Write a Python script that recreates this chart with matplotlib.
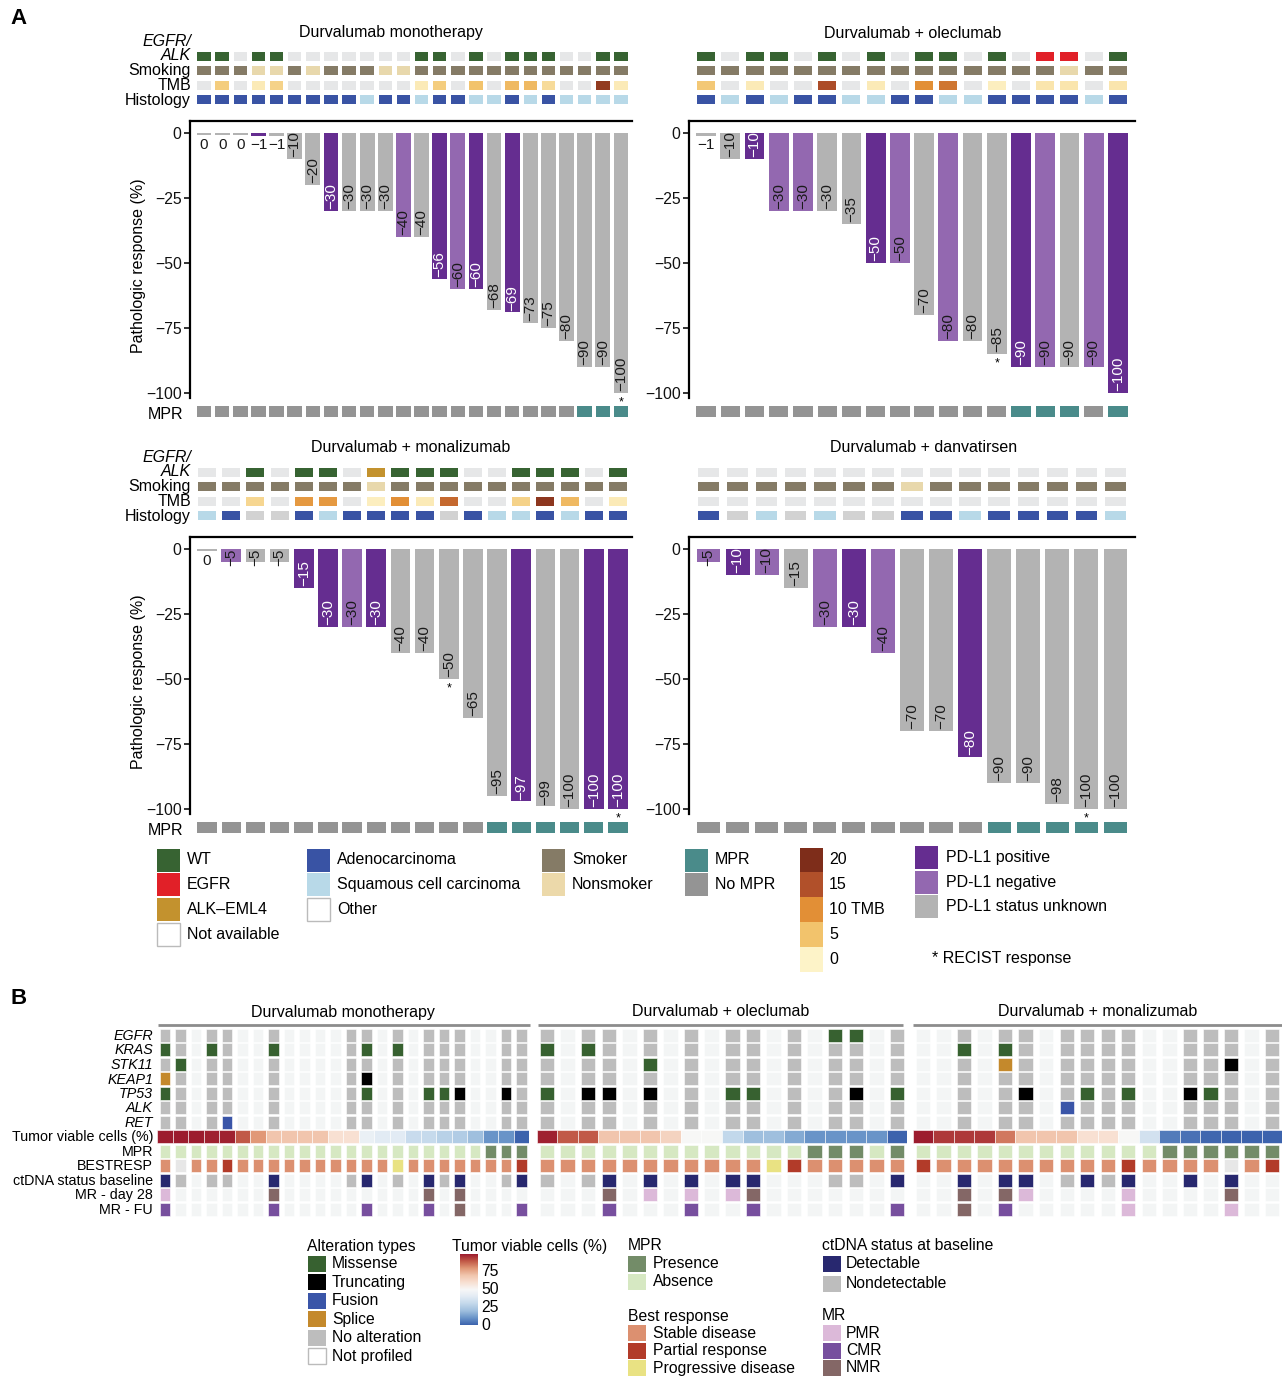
import numpy as np
import matplotlib
matplotlib.use('Agg')
import matplotlib.pyplot as plt
from matplotlib.colors import LinearSegmentedColormap, Normalize

plt.rcParams['font.family'] = ['Liberation Sans', 'DejaVu Sans']

# ---------------- DATA : panel A ----------------
mono_resp = [0, 0, 0, -1, -1, -10, -20, -30, -30, -30, -30, -40, -40, -56, -60, -60, -68, -69, -73, -75, -80, -90, -90, -100]
mono_pdl1 = list("uuupuuupuuunupnpupuuuuuu")
mono_mpr = [0] * 21 + [1, 1, 1]
mono_recist = [23]
mono_egfr = list("WW.WW.......WW.W.WWW..WW")
mono_smoke = list("SSSNNSNSSSNNSSSSSSSSSSSS")
mono_tmb = [np.nan, 4, np.nan, 1, 3.5, np.nan, np.nan, np.nan, np.nan, np.nan, np.nan, np.nan,
            1, 4, np.nan, 5, np.nan, 6, 6, 2.5, np.nan, np.nan, 18, 1]
mono_hist = list("AAAAAAAAAQAAQAAQQAQAQQQQ")

olec_resp = [-1, -10, -10, -30, -30, -30, -35, -50, -50, -70, -80, -80, -85, -90, -90, -90, -90, -100]
olec_pdl1 = list("uupnnuupnunuupnunp")
olec_mpr = [0] * 13 + [1, 1, 1, 0, 1]
olec_recist = [12]
olec_egfr = list("W.WW.W.W.WW.W.EE.W")
olec_smoke = list("SSSSSSSSSSSSSSSNSS")
olec_tmb = [4.5, np.nan, 1, np.nan, np.nan, 15.5, np.nan, 1, np.nan, 10, 12, np.nan, 0.5, np.nan, 1.5, 1.5, np.nan, 1.5]
olec_hist = list("AQAQAAQQAAQQAAAAQA")

mona_resp = [0, -5, -5, -5, -15, -30, -30, -30, -40, -40, -50, -65, -95, -97, -99, -100, -100, -100]
mona_pdl1 = list("unuuppnpuuuuupuupp")
mona_mpr = [0] * 12 + [1] * 6
mona_recist = [10, 17]
mona_egfr = list("..W.WW.AWWW..WWW.W")
mona_smoke = list("SSSSSSSNSSSSSSSSSS")
mona_tmb = [np.nan, np.nan, 3, np.nan, 9, 9, np.nan, 0.5, 10, 1, 13, np.nan, np.nan, 3.5, 18.5, 6, np.nan, 1]
mona_hist = list("QAOOAQAAAAOAQQAQAA")

danv_resp = [-5, -10, -10, -15, -30, -30, -40, -70, -70, -80, -90, -90, -98, -100, -100]
danv_pdl1 = list("npnunpnuupuuuuu")
danv_mpr = [0] * 10 + [1] * 5
danv_recist = [13]
danv_egfr = list("...............")
danv_smoke = list("SSSSSSSNSSSSSSS")
danv_tmb = [np.nan] * 15
danv_hist = list("AOQOQOOAAQAAAAQ")

# ---------------- DATA : panel B ----------------
genes = ["EGFR", "KRAS", "STK11", "KEAP1", "TP53", "ALK", "RET"]

b_mono = {
    "EGFR":  "nn.nn..n....nn.n.nnn..nn",
    "KRAS":  "Mn.Mn..M....nM.M.nnn..nn",
    "STK11": "nM.nn..n....nn.n.nnn..nn",
    "KEAP1": "Sn.nn..n....nT.n.nnn..nn",
    "TP53":  "Mn.nn..n....nM.n.MMT..Tn",
    "ALK":   "nn.nn..n....nn.n.nnn..nn",
    "RET":   "nn.nF..n....nn.n.nnn..nn",
}
b_mono_viable = [100, 100, 100, 99, 99, 90, 80, 70, 70, 70, 70, 60, 60, 44, 40, 40, 32, 31, 27, 25, 20, 10, 10, 0]
b_mono_mpr = [0] * 21 + [1, 1, 1]
b_mono_best = "SxSSPSSSSSSSSSSDSSSSSSSP"
b_mono_ctdna = "DN.NN..D....ND.N.DND..ND"
b_mono_mr28 = "P......N.........N.N...."
b_mono_mrfu = "C......C.....C...C.N...C"

b_olec = {
    "EGFR":  "n.nn.n.n.nn.n.MM.n",
    "KRAS":  "M.Mn.n.n.nn.n.nn.n",
    "STK11": "n.nn.M.n.nn.n.nn.n",
    "KEAP1": "n.nn.n.n.nn.n.nn.n",
    "TP53":  "M.TT.T.n.MM.n.nT.M",
    "ALK":   "n.nn.n.n.nn.n.nn.n",
    "RET":   "n.nn.n.n.nn.n.nn.n",
}
b_olec_viable = [99, 90, 90, 70, 70, 70, 65, 50, 50, 30, 20, 20, 15, 10, 10, 10, 10, 0]
b_olec_mpr = [0] * 13 + [1, 1, 1, 0, 1]
b_olec_best = "SSSSSSSSSSSDPSSSSS"
b_olec_ctdna = "N.ND.D.D.DD...NN.D"
b_olec_mr28 = "...N.P.P.PN......."
b_olec_mrfu = "...C...C..C......C"

b_mona = {
    "EGFR":  "..n.nn.nnnn..nnn.n",
    "KRAS":  "..M.Mn.nnnn..nnn.n",
    "STK11": "..n.Sn.nnnn..nnT.n",
    "KEAP1": "..n.nn.nnnn..nnn.n",
    "TP53":  "..n.nT.nMnM..TMn.n",
    "ALK":   "..n.nn.Fnnn..nnn.n",
    "RET":   "..n.nn.nnnn..nnn.n",
}
b_mona_viable = [100, 95, 95, 95, 85, 70, 70, 70, 60, 60, 50, 35, 5, 3, 1, 0, 0, 0]
b_mona_mpr = [0] * 12 + [1] * 6
b_mona_best = "PSSSSSSSSSPSSSSxSP"
b_mona_ctdna = "..D.DD.NDND..D.D.."
b_mona_mr28 = "..N.NP....P....N.."
b_mona_mrfu = "..N.C.....P....P.."

# ---------------- colours ----------------
PDL1_COL = {'p': '#652d90', 'n': '#9368b0', 'u': '#b3b3b3'}
EGFR_COL = {'W': '#376332', '.': '#e6e7e8', 'E': '#e12028', 'A': '#c3922e'}
SMOKE_COL = {'S': '#857b66', 'N': '#e8d8ac'}
HIST_COL = {'A': '#3953a4', 'Q': '#b8d9e8', 'O': '#d2d2d2'}
NA_COL = '#e6e7e8'
tmb_cmap = LinearSegmentedColormap.from_list('tmb', ['#fdf3c8', '#f2c36c', '#e28f36', '#b2502a', '#7e2d1a'])
tmb_norm = Normalize(0, 20)
MPRA_COL = {1: '#4a8b8a', 0: '#949494'}

ALT_COL = {'.': '#f3f5f5', 'n': '#bdbdbd', 'M': '#376130', 'T': '#000000', 'F': '#3a55a8', 'S': '#c4892c'}
viable_cmap = LinearSegmentedColormap.from_list('viable', [
    (0.0, '#3c63ad'), (0.1, '#6a95c9'), (0.2, '#9fbfde'), (0.3, '#c3d8eb'), (0.4, '#e2ebf4'),
    (0.5, '#f7f7f7'), (0.6, '#f8e0d2'), (0.7, '#f1c6ae'), (0.8, '#e19877'), (0.9, '#c25a47'),
    (1.0, '#9c1c2e')])
viable_norm = Normalize(0, 100)
MPRB_COL = {1: '#738c68', 0: '#d6e8c2'}
BEST_COL = {'S': '#dc9070', 'P': '#b23b29', 'D': '#e9e283', 'x': '#e7e7e7'}
CT_COL = {'D': '#28286f', 'N': '#bdbdbd', '.': '#f3f5f5'}
MR_COL = {'P': '#dcb9d9', 'C': '#774f9e', 'N': '#846766', '.': '#f3f5f5'}

# ---------------- figure ----------------
W, H = 1282, 1377
fig = plt.figure(figsize=(W / 100, H / 100), dpi=100)


def frect(x0, y0, x1, y1):
    return [x0 / W, 1 - y1 / H, (x1 - x0) / W, (y1 - y0) / H]


ov = fig.add_axes([0, 0, 1, 1])
ov.axis('off')

FS = 11.5

panels = [
    dict(title='Durvalumab monotherapy', tx=391, ty=33, resp=mono_resp, pdl1=mono_pdl1, mpr=mono_mpr,
         recist=mono_recist, egfr=mono_egfr, smoke=mono_smoke, tmb=mono_tmb, hist=mono_hist,
         ax=(190, 121, 632, 398), bars=(195, 630), trk=(49, 107), mprr=(404, 419), left=True),
    dict(title='Durvalumab + oleclumab', tx=913, ty=33, resp=olec_resp, pdl1=olec_pdl1, mpr=olec_mpr,
         recist=olec_recist, egfr=olec_egfr, smoke=olec_smoke, tmb=olec_tmb, hist=olec_hist,
         ax=(689, 121, 1135, 398), bars=(694, 1130), trk=(49, 107), mprr=(404, 419), left=False),
    dict(title='Durvalumab + monalizumab', tx=411, ty=447, resp=mona_resp, pdl1=mona_pdl1, mpr=mona_mpr,
         recist=mona_recist, egfr=mona_egfr, smoke=mona_smoke, tmb=mona_tmb, hist=mona_hist,
         ax=(190, 537, 632, 814), bars=(195, 630), trk=(465, 523), mprr=(820, 835), left=True),
    dict(title='Durvalumab + danvatirsen', tx=924, ty=447, resp=danv_resp, pdl1=danv_pdl1, mpr=danv_mpr,
         recist=danv_recist, egfr=danv_egfr, smoke=danv_smoke, tmb=danv_tmb, hist=danv_hist,
         ax=(689, 537, 1135, 814), bars=(694, 1130), trk=(465, 523), mprr=(820, 835), left=False),
]

for p in panels:
    n = len(p['resp'])
    axl, axt, axr, axb = p['ax']
    bx0, bx1 = p['bars']
    w = (bx1 - bx0) / n
    xl = ((axl - bx0) / w - 0.5, (axr - bx0) / w - 0.5)
    x = np.arange(n)
    vals = np.array(p['resp'], float)

    ax = fig.add_axes(frect(axl, axt, axr, axb))
    heights = np.where(vals == 0, -0.8, vals)
    ax.bar(x, heights, width=0.82, color=[PDL1_COL[c] for c in p['pdl1']], linewidth=0)
    ax.set_xlim(*xl)
    ax.set_ylim(-101.9, 4.6)
    ax.set_yticks([0, -25, -50, -75, -100])
    ax.set_xticks([])
    ax.tick_params(axis='y', length=4, width=1.2, labelsize=11.3, pad=2, colors='#111111')
    for s in ['right', 'bottom']:
        ax.spines[s].set_visible(False)
    for s in ['left', 'top']:
        ax.spines[s].set_linewidth(1.6)
    for i, v in enumerate(vals):
        tc = 'white' if p['pdl1'][i] == 'p' else '#1a1a1a'
        if v > -5:
            ax.text(i, -4.6, f"{int(v)}".replace('-', '\u2212'), ha='center', va='center',
                    fontsize=11, color='#1a1a1a')
        else:
            yb = min(v + 0.6, -6.5)
            ax.text(i, yb, f"{int(v)}".replace('-', '\u2212'), ha='center', va='bottom',
                    rotation=90, fontsize=11, color=tc)
    for i in p['recist']:
        ax.text(i, vals[i] - 3.6, '*', ha='center', va='center', fontsize=9, clip_on=False)
    if p['left']:
        ov.text(138, (axt + axb) / 2 + 6, 'Pathologic response (%)', rotation=90, ha='center',
                va='center', fontsize=FS)

    # tracks
    t0, t1 = p['trk']
    tax = fig.add_axes(frect(axl, t0, axr, t1))
    tmb_cols = [NA_COL if np.isnan(t) else tmb_cmap(tmb_norm(t)) for t in p['tmb']]
    rows = [[EGFR_COL[c] for c in p['egfr']], [SMOKE_COL[c] for c in p['smoke']], tmb_cols,
            [HIST_COL[c] for c in p['hist']]]
    for r, cols in enumerate(rows):
        tax.bar(x, 0.6, bottom=r - 0.3, width=0.74, color=cols, linewidth=0)
    tax.set_xlim(*xl)
    tax.set_ylim(3.5, -0.5)
    tax.axis('off')

    # MPR row
    m0, m1 = p['mprr']
    max_ = fig.add_axes(frect(axl, m0, axr, m1))
    max_.bar(x, 0.68, bottom=-0.34, width=0.8, color=[MPRA_COL[m] for m in p['mpr']], linewidth=0)
    max_.set_xlim(*xl)
    max_.set_ylim(0.5, -0.5)
    max_.axis('off')

    ov.text(p['tx'], p['ty'], p['title'], ha='center', va='center', fontsize=FS)
    if p['left']:
        off = t0 - 49
        ov.text(191, 41 + off, 'EGFR/', ha='right', va='center', fontsize=FS, style='italic')
        ov.text(191, 56 + off, 'ALK', ha='right', va='center', fontsize=FS, style='italic')
        ov.text(191, 71 + off, 'Smoking', ha='right', va='center', fontsize=FS)
        ov.text(191, 86 + off, 'TMB', ha='right', va='center', fontsize=FS)
        ov.text(191, 101 + off, 'Histology', ha='right', va='center', fontsize=FS)
        ov.text(183, (m0 + m1) / 2 + 3, 'MPR', ha='right', va='center', fontsize=FS)

# ---------------- legend A ----------------
def box(x, yc, col, w=23, h=23, edge=None):
    ov.add_patch(plt.Rectangle((x, yc - h / 2), w, h, facecolor=col,
                               edgecolor=edge if edge else col, linewidth=1.0 if edge else 0))

legA = [
    (157, [('WT', '#376332', None), ('EGFR', '#e12028', None), ('ALK\u2013EML4', '#c3922e', None),
           ('Not available', 'white', '#bbbbbb')]),
    (307, [('Adenocarcinoma', '#3953a4', None), ('Squamous cell carcinoma', '#b8d9e8', None),
           ('Other', 'white', '#bbbbbb')]),
    (542, [('Smoker', '#857b66', None), ('Nonsmoker', '#ecd9aa', None)]),
    (685, [('MPR', '#4a8b8a', None), ('No MPR', '#949494', None)]),
]
for x0, items in legA:
    for k, (lab, col, edge) in enumerate(items):
        yc = 860 + 24.7 * k
        box(x0, yc, col, edge=edge)
        ov.text(x0 + 30, yc, lab, ha='left', va='center', fontsize=FS)

tmb_leg = [(20, '20'), (15, '15'), (10, '10 TMB'), (5, '5'), (0, '0')]
for k, (v, lab) in enumerate(tmb_leg):
    yc = 860 + 24.8 * k
    ov.add_patch(plt.Rectangle((800, yc - 12.4), 23, 24.8, facecolor=tmb_cmap(tmb_norm(v)), linewidth=0))
    ov.text(829, yc, lab, ha='left', va='center', fontsize=FS)

for k, (lab, key) in enumerate([('PD-L1 positive', 'p'), ('PD-L1 negative', 'n'), ('PD-L1 status unknown', 'u')]):
    yc = 857.5 + 24.5 * k
    box(915, yc, PDL1_COL[key])
    ov.text(946, yc, lab, ha='left', va='center', fontsize=FS)
ov.text(932, 959, '* RECIST response', ha='left', va='center', fontsize=FS)

ov.text(10, 19, 'A', ha='left', va='center', fontsize=16, fontweight='bold')
ov.text(10, 999, 'B', ha='left', va='center', fontsize=16, fontweight='bold')

# ---------------- panel B ----------------
sections = [
    dict(title='Durvalumab monotherapy', tx=343, alt=b_mono, viable=b_mono_viable, mpr=b_mono_mpr,
         best=b_mono_best, ct=b_mono_ctdna, mr28=b_mono_mr28, mrfu=b_mono_mrfu, xr=(157.3, 529.3), cw=0.69,
         line=(158, 530)),
    dict(title='Durvalumab + oleclumab', tx=721, alt=b_olec, viable=b_olec_viable, mpr=b_olec_mpr,
         best=b_olec_best, ct=b_olec_ctdna, mr28=b_olec_mr28, mrfu=b_olec_mrfu, xr=(536.7, 907.3), cw=0.70,
         line=(538, 903)),
    dict(title='Durvalumab + monalizumab', tx=1098, alt=b_mona, viable=b_mona_viable, mpr=b_mona_mpr,
         best=b_mona_best, ct=b_mona_ctdna, mr28=b_mona_mr28, mrfu=b_mona_mrfu, xr=(912.7, 1282.3), cw=0.70,
         line=(913, 1282)),
]
row_h = 0.87
y_top, y_bot = 1028.0, 1216.5
for s in sections:
    n = len(s['viable'])
    x = np.arange(n)
    bax = fig.add_axes(frect(s['xr'][0], y_top, s['xr'][1], y_bot))
    cw = s['cw']
    for r, g in enumerate(genes):
        bax.bar(x, row_h, bottom=r - row_h / 2, width=cw, color=[ALT_COL[c] for c in s['alt'][g]],
                edgecolor='white', linewidth=0.4)
    bax.bar(x, row_h, bottom=7 - row_h / 2, width=1.0,
            color=[viable_cmap(viable_norm(v)) for v in s['viable']], edgecolor='white', linewidth=0.4)
    bax.bar(x, row_h, bottom=8 - row_h / 2, width=cw, color=[MPRB_COL[m] for m in s['mpr']],
            edgecolor='white', linewidth=0.4)
    bax.bar(x, row_h, bottom=9 - row_h / 2, width=cw, color=[BEST_COL[c] for c in s['best']],
            edgecolor='white', linewidth=0.4)
    bax.bar(x, row_h, bottom=10 - row_h / 2, width=cw, color=[CT_COL[c] for c in s['ct']],
            edgecolor='white', linewidth=0.4)
    bax.bar(x, row_h, bottom=11 - row_h / 2, width=cw, color=[MR_COL[c] for c in s['mr28']],
            edgecolor='white', linewidth=0.4)
    bax.bar(x, row_h, bottom=12 - row_h / 2, width=cw, color=[MR_COL[c] for c in s['mrfu']],
            edgecolor='white', linewidth=0.4)
    bax.set_xlim(-0.5, n - 0.5)
    bax.set_ylim(12.5, -0.5)
    bax.axis('off')
    ov.plot(s['line'], [1025, 1025], color='#8c8c8c', linewidth=2, solid_capstyle='butt')
    ov.text(s['tx'], 1012, s['title'], ha='center', va='center', fontsize=FS)

b_labels = genes + ['Tumor viable cells (%)', 'MPR', 'BESTRESP', 'ctDNA status baseline', 'MR - day 28', 'MR - FU']
for r, lab in enumerate(b_labels):
    yc = 1036 + 14.5 * r
    ov.text(153, yc, lab, ha='right', va='center', fontsize=10.3,
            style='italic' if r < 7 else 'normal')

# ---------------- legend B ----------------
FSB = 11.3


def sbox(x, yc, col, edge=None):
    ov.add_patch(plt.Rectangle((x, yc - 8), 18, 16, facecolor=col,
                               edgecolor=edge if edge else col, linewidth=1.0 if edge else 0))


ov.text(307, 1246, 'Alteration types', ha='left', va='center', fontsize=FSB)
alt_leg = [('Missense', ALT_COL['M'], None), ('Truncating', ALT_COL['T'], None), ('Fusion', ALT_COL['F'], None),
           ('Splice', ALT_COL['S'], None), ('No alteration', ALT_COL['n'], None), ('Not profiled', 'white', '#bbbbbb')]
for k, (lab, col, edge) in enumerate(alt_leg):
    yc = 1264 + 18.4 * k
    sbox(308, yc, col, edge)
    ov.text(332, yc, lab, ha='left', va='center', fontsize=FSB)

ov.text(452, 1246, 'Tumor viable cells (%)', ha='left', va='center', fontsize=FSB)
grad = np.linspace(0, 100, 256).reshape(-1, 1)
ov.imshow(grad, extent=[460, 478, 1325, 1254], origin='lower', cmap=viable_cmap, norm=viable_norm,
          aspect='auto', interpolation='bilinear')
for v in [75, 50, 25, 0]:
    yc = 1325 - v * 0.71
    ov.text(481, yc, str(v), ha='left', va='center', fontsize=FSB)

ov.text(628, 1246, 'MPR', ha='left', va='center', fontsize=FSB)
for k, (lab, col) in enumerate([('Presence', MPRB_COL[1]), ('Absence', MPRB_COL[0])]):
    yc = 1264 + 18 * k
    sbox(628, yc, col)
    ov.text(653, yc, lab, ha='left', va='center', fontsize=FSB)
ov.text(628, 1316, 'Best response', ha='left', va='center', fontsize=FSB)
for k, (lab, col) in enumerate([('Stable disease', BEST_COL['S']), ('Partial response', BEST_COL['P']),
                                ('Progressive disease', BEST_COL['D'])]):
    yc = 1333 + 17.5 * k
    sbox(628, yc, col)
    ov.text(653, yc, lab, ha='left', va='center', fontsize=FSB)

ov.text(822, 1246, 'ctDNA status at baseline', ha='left', va='center', fontsize=FSB)
for k, (lab, col) in enumerate([('Detectable', CT_COL['D']), ('Nondetectable', CT_COL['N'])]):
    yc = 1264 + 20 * k
    sbox(823, yc, col)
    ov.text(846, yc, lab, ha='left', va='center', fontsize=FSB)
ov.text(822, 1316, 'MR', ha='left', va='center', fontsize=FSB)
for k, (lab, col) in enumerate([('PMR', MR_COL['P']), ('CMR', MR_COL['C']), ('NMR', MR_COL['N'])]):
    yc = 1333 + 17.5 * k
    sbox(823, yc, col)
    ov.text(846, yc, lab, ha='left', va='center', fontsize=FSB)

ov.set_xlim(0, W)
ov.set_ylim(H, 0)

fig.savefig('out.png', dpi=100)
